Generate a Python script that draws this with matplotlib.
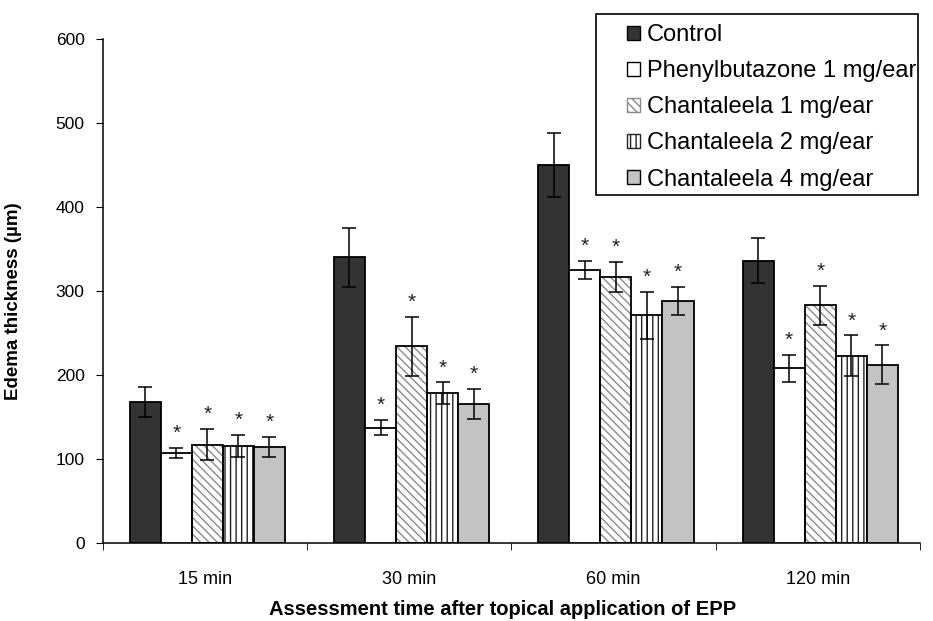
import matplotlib.pyplot as plt
import numpy as np

plt.rcParams['font.family'] = ['Liberation Sans', 'DejaVu Sans']

# data
times = ['15 min', '30 min', '60 min', '120 min']
groups = ['Control', 'Phenylbutazone 1 mg/ear', 'Chantaleela 1 mg/ear',
          'Chantaleela 2 mg/ear', 'Chantaleela 4 mg/ear']
control = [168, 340, 450, 336]
phenyl = [107, 137, 325, 208]
chant1 = [117, 234, 317, 283]
chant2 = [115, 178, 271, 223]
chant4 = [114, 165, 288, 212]
err_control = [18, 35, 38, 27]
err_phenyl = [6, 9, 11, 16]
err_chant1 = [19, 35, 18, 23]
err_chant2 = [13, 13, 28, 24]
err_chant4 = [12, 18, 17, 23]
signif = [False, True, True, True, True]

values = [control, phenyl, chant1, chant2, chant4]
errors = [err_control, err_phenyl, err_chant1, err_chant2, err_chant4]
styles = [
    dict(color='#333333', hatch=None, hatchcol=None),
    dict(color='white', hatch=None, hatchcol=None),
    dict(color='white', hatch='\\\\\\\\', hatchcol='#8a8a8a'),
    dict(color='white', hatch='|||', hatchcol='#222222'),
    dict(color='#c3c3c3', hatch=None, hatchcol=None),
]

fig = plt.figure(figsize=(9.33, 6.21), dpi=100)
ax = fig.add_axes([0.110, 0.126, 0.876, 0.811])

x = np.arange(len(times))
w = 0.152
handles = []
for i, (vals, errs, st) in enumerate(zip(values, errors, styles)):
    pos = x + (i - 2) * w + 0.012
    if st['hatch']:
        ax.bar(pos, vals, w, color=st['color'], edgecolor=st['hatchcol'],
               hatch=st['hatch'], linewidth=0, zorder=2)
        ax.bar(pos, vals, w, fill=False, edgecolor='black', linewidth=1.3,
               zorder=3)
        hp = plt.Rectangle((0, 0), 1, 1, facecolor=st['color'],
                           edgecolor=st['hatchcol'], hatch=st['hatch'],
                           linewidth=1)
    else:
        ax.bar(pos, vals, w, color=st['color'], edgecolor='black',
               linewidth=1.3, zorder=3)
        hp = plt.Rectangle((0, 0), 1, 1, facecolor=st['color'],
                           edgecolor='black', linewidth=1)
    handles.append(hp)
    ax.errorbar(pos, vals, yerr=errs, fmt='none', ecolor='black',
                elinewidth=1.1, capsize=5, capthick=1.1, zorder=4)
    if signif[i]:
        for p, v, e in zip(pos, vals, errs):
            ax.text(p, v + e + 6, '*', ha='center', va='bottom', fontsize=15,
                    color='#222222')

ax.set_xlim(-0.5, 3.5)
ax.set_ylim(0, 600)
ax.set_yticks(np.arange(0, 601, 100))
ax.set_xticks(x)
ax.set_xticklabels(times, fontsize=13)
ax.set_xticks(np.arange(-0.5, 3.6, 1), minor=True)
ax.tick_params(axis='x', which='major', length=0, pad=20)
ax.tick_params(axis='x', which='minor', length=5, direction='out')
ax.tick_params(axis='y', labelsize=12.5, length=5, direction='out', pad=8)
for s in ['top', 'right']:
    ax.spines[s].set_visible(False)
for s in ['left', 'bottom']:
    ax.spines[s].set_linewidth(1.1)

ax.set_ylabel('Edema thickness (µm)', fontsize=13.5, fontweight='bold')
ax.yaxis.set_label_coords(-0.099, 0.48)
ax.set_xlabel('Assessment time after topical application of EPP',
              fontsize=14.5, fontweight='bold')
ax.xaxis.set_label_coords(0.49, -0.113)

# legend box drawn by hand so its frame sits where the reference has it
box = plt.Rectangle((596 / 933, 1 - 195 / 621), 322 / 933, 181 / 621,
                    transform=fig.transFigure, facecolor='white',
                    edgecolor='black', linewidth=1.2, zorder=5)
fig.patches.append(box)
leg = fig.legend(handles, groups, loc='upper left',
                 bbox_to_anchor=(627 / 933, 1 - 24 / 621), fontsize=17,
                 frameon=False, handlelength=0.55, handleheight=0.55,
                 handletextpad=0.3, labelspacing=0.6, borderpad=0,
                 borderaxespad=0)
leg.set_zorder(6)

fig.savefig('out.png', dpi=100)
